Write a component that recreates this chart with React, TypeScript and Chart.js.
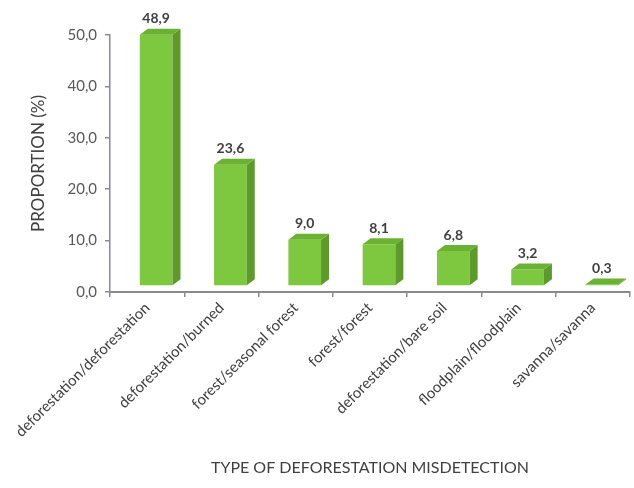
import React, { useEffect, useRef } from "react";
import { Chart, registerables } from "chart.js";

Chart.register(...registerables);

const categories = [
  "deforestation/deforestation",
  "deforestation/burned",
  "forest/seasonal forest",
  "forest/forest",
  "deforestation/bare soil",
  "floodplain/floodplain",
  "savanna/savanna",
];
const proportions = [48.9, 23.6, 9.0, 8.1, 6.8, 3.2, 0.3];
const yTicks = [0, 10, 20, 30, 40, 50];

const fmt = (v: number) => v.toFixed(1).replace(".", ",");

const DX = 8;
const DY = -6;
// the whole 3D block sits one depth step back (right/up) from the axis plane
const SHIFT_X = 9;
const SHIFT_Y = -6;

const bar3d = {
  id: "bar3d",
  beforeDatasetsDraw(chart: any) {
    chart.ctx.save();
    chart.ctx.translate(SHIFT_X, SHIFT_Y);
  },
  afterDatasetsDraw(chart: any) {
    const ctx = chart.ctx;
    const meta = chart.getDatasetMeta(0);
    meta.data.forEach((bar: any, i: number) => {
      const { x, y, base, width } = bar.getProps(["x", "y", "base", "width"], true);
      const l = x - width / 2;
      const r = x + width / 2;
      // side face
      ctx.fillStyle = "#5c9a2b";
      ctx.beginPath();
      ctx.moveTo(r, y);
      ctx.lineTo(r + DX, y + DY);
      ctx.lineTo(r + DX, base + DY);
      ctx.lineTo(r, base);
      ctx.closePath();
      ctx.fill();
      // top face
      ctx.fillStyle = "#6cb232";
      ctx.beginPath();
      ctx.moveTo(l, y);
      ctx.lineTo(l + DX, y + DY);
      ctx.lineTo(r + DX, y + DY);
      ctx.lineTo(r, y);
      ctx.closePath();
      ctx.fill();
      // value label
      ctx.fillStyle = "#404040";
      ctx.font = "bold 14px Lato";
      ctx.textAlign = "center";
      ctx.textBaseline = "bottom";
      ctx.fillText(fmt(proportions[i]), x, y + DY - 3);
    });
    ctx.restore();
  },
};

export default function App() {
  const ref = useRef<HTMLCanvasElement>(null);
  useEffect(() => {
    document.body.style.margin = "0";
    const chart = new Chart(ref.current!, {
      type: "bar",
      data: {
        labels: categories,
        datasets: [
          {
            data: proportions,
            backgroundColor: "#7ec83f",
            barPercentage: 0.44,
            categoryPercentage: 1,
          },
        ],
      },
      plugins: [bar3d],
      options: {
        animation: false,
        responsive: false,
        devicePixelRatio: 1,
        layout: { padding: { left: 24, right: 4, top: 35, bottom: 0 } },
        plugins: { legend: { display: false }, tooltip: { enabled: false } },
        scales: {
          y: {
            min: 0,
            max: 50,
            afterFit: (s: any) => {
              s.width = 86;
            },
            afterBuildTicks: (s: any) => {
              s.ticks = yTicks.map((v) => ({ value: v }));
            },
            ticks: {
              callback: (v: any) => fmt(Number(v)),
              color: "#595959",
              font: { family: "Lato", size: 15 },
              padding: 8,
            },
            grid: { drawOnChartArea: false, drawTicks: true, tickLength: 5, color: "#8a8a96", lineWidth: 1.5 },
            border: { display: true, color: "#8a8a96", width: 1.5 },
            title: {
              display: true,
              text: "PROPORTION (%)",
              color: "#404040",
              font: { family: "Lato", size: 17 },
              padding: { top: 4, bottom: 4 },
            },
          },
          x: {
            afterFit: (s: any) => {
              s.height = 196;
            },
            ticks: {
              minRotation: 45,
              maxRotation: 45,
              color: "#404040",
              font: { family: "Lato", size: 15 },
              padding: 2,
            },
            grid: { drawOnChartArea: false, drawTicks: true, tickLength: 5, color: "#8a8a96", lineWidth: 1.5 },
            border: { display: true, color: "#8a8a96", width: 2 },
            title: {
              display: true,
              text: "TYPE OF DEFORESTATION MISDETECTION",
              color: "#404040",
              font: { family: "Lato", size: 16 },
              padding: { top: 4, bottom: 11 },
            },
          },
        },
      },
    });
    return () => chart.destroy();
  }, []);
  return <canvas ref={ref} width={634} height={488} style={{ display: "block" }} />;
}
